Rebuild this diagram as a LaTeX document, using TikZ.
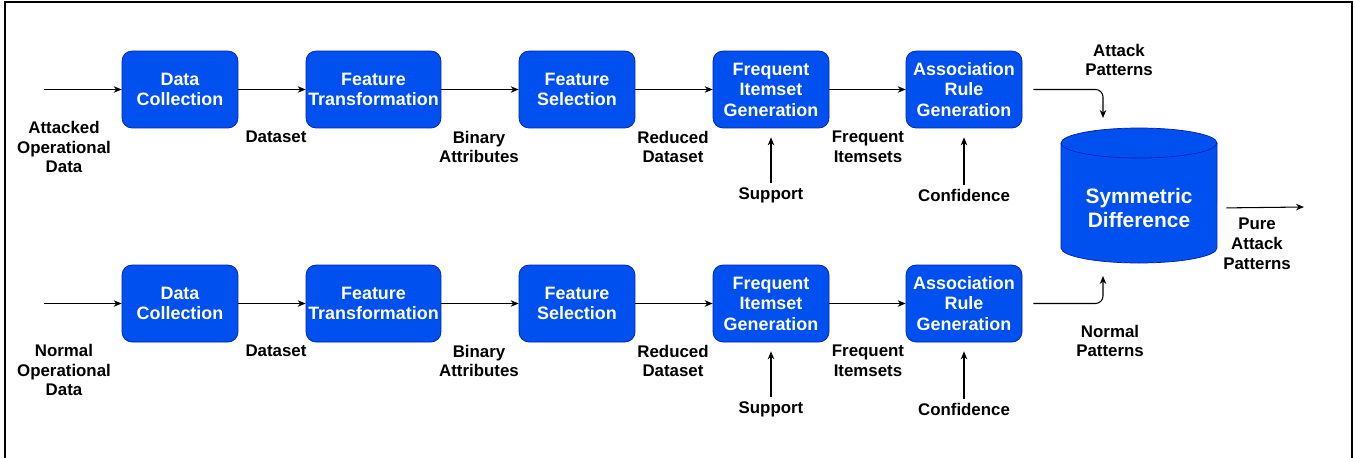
\documentclass[tikz,border=0pt]{standalone}
\usepackage{fontspec}
\setmainfont{Liberation Sans}
\usetikzlibrary{arrows.meta}
\definecolor{boxblue}{HTML}{0050EF}
\definecolor{boxline}{HTML}{001DBC}
\tikzset{
  stage/.style={draw=boxline, fill=boxblue, rounded corners=0.2cm, text=white,
    font=\fontsize{10.2}{11.7}\selectfont\bfseries, align=center,
    minimum width=2.32cm, minimum height=1.54cm, inner sep=1pt},
  lbl/.style={font=\fontsize{9.6}{11.3}\selectfont\bfseries, align=center, inner sep=1pt},
  arr/.style={-{Stealth[length=1.6mm,width=1.3mm]}, line width=0.6pt},
}
\begin{document}
\begin{tikzpicture}[x=0.02cm,y=0.02cm]
\useasboundingbox (0,0) rectangle (1355,-457);
\draw[line width=0.8pt] (5,-470) -- (5,-2) -- (1352,-2) -- (1352,-470);

% the two pipelines
\foreach \r/\y/\sy/\src in {1/89.5/147/Attacked, 2/303.5/370/Normal} {
  \node[stage] (dc\r) at (180,-\y) {Data\\Collection};
  \node[stage, minimum width=2.7cm] (ft\r) at (373.5,-\y) {Feature\\Transformation};
  \node[stage] (fs\r) at (577,-\y) {Feature\\Selection};
  \node[stage] (fi\r) at (771,-\y) {Frequent\\Itemset\\Generation};
  \node[stage] (ar\r) at (964,-\y) {Association\\Rule\\Generation};

  \coordinate (in\r) at (44,-\y);
  \draw[arr] (in\r) -- (dc\r);
  \draw[arr] (dc\r) -- (ft\r);
  \draw[arr] (ft\r) -- (fs\r);
  \draw[arr] (fs\r) -- (fi\r);
  \draw[arr] (fi\r) -- (ar\r);

  \node[lbl] (src\r) at (64,-\sy) {\src\\Operational\\Data};
  \node[lbl] (ds\r) at (276,-\y-47.5) {Dataset};
  \node[lbl] (ba\r) at (479,-\y-57.5) {Binary\\Attributes};
  \node[lbl] (rd\r) at (673,-\y-57.5) {Reduced\\Dataset};
  \node[lbl] (fq\r) at (868,-\y-57.5) {Frequent\\Itemsets};

  \node[lbl] (sup\r) at (771,-\y-105.5) {Support};
  \node[lbl] (conf\r) at (964,-\y-105.5) {Confidence};
  \draw[arr, shorten >=0.18cm, shorten <=0.04cm] (sup\r) -- (fi\r);
  \draw[arr, shorten >=0.18cm, shorten <=0.04cm] (conf\r) -- (ar\r);
}

% symmetric difference store
\draw[draw=boxline, fill=boxblue] (1061,-143) -- (1061,-248)
  arc[start angle=180, end angle=360, x radius=1.56cm, y radius=0.3cm]
  -- (1217,-143)
  arc[start angle=0, end angle=180, x radius=1.56cm, y radius=0.3cm] -- cycle;
\draw[boxline] (1061,-143) arc[start angle=180, end angle=360, x radius=1.56cm, y radius=0.3cm];
\node[text=white, font=\fontsize{11.9}{13.6}\selectfont\bfseries, align=center,
  minimum width=3.12cm, inner sep=0pt] (symdiff) at (1139,-208) {Symmetric\\Difference};

\node[lbl] (attpat) at (1119,-60) {Attack\\Patterns};
\node[lbl] (normpat) at (1110,-341) {Normal\\Patterns};
\node[lbl] (pure) at (1257,-244) {Pure\\Attack\\Patterns};

\coordinate (attin) at (1103,-118);
\coordinate (normin) at (1103,-276);
\coordinate (pureout) at (1304,-207);
\draw[arr, rounded corners=0.15cm, shorten <=0.22cm] (ar1.east) -| (attin);
\draw[arr, rounded corners=0.15cm, shorten <=0.22cm] (ar2.east) -| (normin);
\draw[arr, shorten <=0.18cm] (symdiff.east) -- (pureout);
\end{tikzpicture}
\end{document}
